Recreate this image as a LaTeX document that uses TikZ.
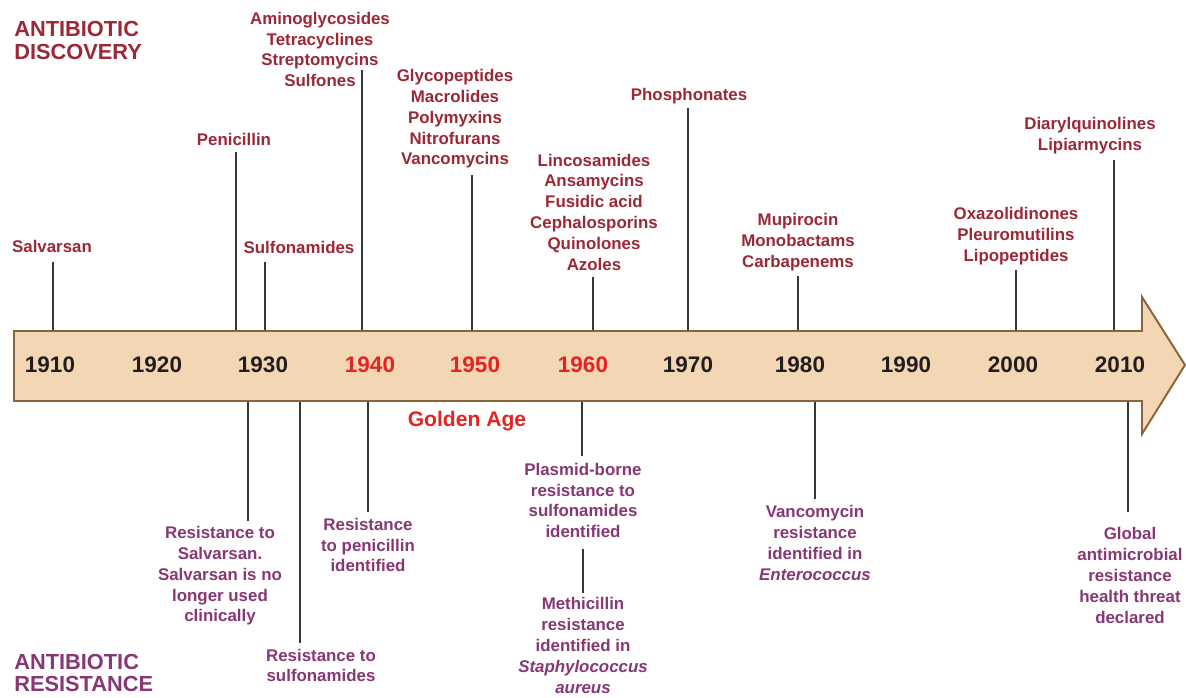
\documentclass[tikz,border=0pt]{standalone}
\usepackage{fontspec}
\setmainfont{Liberation Sans}
\usepackage{xcolor}
\usetikzlibrary{positioning}
\definecolor{discred}{RGB}{155,40,55}
\definecolor{respurple}{RGB}{135,55,115}
\definecolor{goldred}{RGB}{230,35,35}
\definecolor{yearblack}{RGB}{35,30,30}
\definecolor{barfill}{RGB}{243,215,180}
\definecolor{barbrown}{RGB}{140,100,60}
\definecolor{tickgray}{RGB}{55,55,55}

\begin{document}
\begin{tikzpicture}[
  x=0.025cm, y=-0.025cm,
  every node/.style={align=center, inner sep=0pt},
  disclbl/.style={text=discred, font=\fontsize{12}{14.8}\selectfont\bfseries},
  reslbl/.style={text=respurple, font=\fontsize{12}{14.8}\selectfont\bfseries},
  yearlbl/.style={text=#1, font=\fontsize{16}{19}\selectfont\bfseries},
  titlelbl/.style={text=#1, align=left, anchor=west,
                   font=\fontsize{15.5}{16.3}\selectfont\bfseries},
  tickline/.style={draw=tickgray, line width=1.4pt},
]
\useasboundingbox (0,0) rectangle (1186,698);

%% bar edges
\coordinate (bartop) at (0,331);
\coordinate (barbot) at (0,401);

%% ---- titles ----
\node[titlelbl=discred]   (disc)   at (14,40.5) {ANTIBIOTIC\\DISCOVERY};
\node[titlelbl=respurple] (resist) at (14,673)  {ANTIBIOTIC\\RESISTANCE};

%% ---- discoveries (above the bar) ----
\node[disclbl] (salv)   at (52,246)    {Salvarsan};
\node[disclbl] (peni)   at (234,139)   {Penicillin};
\node[disclbl] (sulfa)  at (299,247)   {Sulfonamides};
\node[disclbl] (amino)  at (320,49.5)  {Aminoglycosides\\Tetracyclines\\Streptomycins\\Sulfones};
\node[disclbl] (glyco)  at (455,119)   {Glycopeptides\\Macrolides\\Polymyxins\\Nitrofurans\\Vancomycins};
\node[disclbl] (phos)   at (689,96)    {Phosphonates};
\node[disclbl] (linco)  at (594,212)   {Lincosamides\\Ansamycins\\Fusidic acid\\Cephalosporins\\Quinolones\\Azoles};
\node[disclbl] (mupi)   at (798,242)   {Mupirocin\\Monobactams\\Carbapenems};
\node[disclbl] (oxa)    at (1016,236)  {Oxazolidinones\\Pleuromutilins\\Lipopeptides};
\node[disclbl] (diaryl) at (1090,135.5){Diarylquinolines\\Lipiarmycins};

\coordinate (tsalv)   at (53,262);
\coordinate (tpeni)   at (236,152);
\coordinate (tsulfa)  at (265,262);
\coordinate (tamino)  at (362,70);
\coordinate (tglyco)  at (472,175);
\coordinate (tphos)   at (688,108);
\coordinate (tlinco)  at (593,277);
\coordinate (tmupi)   at (798,276);
\coordinate (toxa)    at (1016,270);
\coordinate (tdiaryl) at (1114,160);
\foreach \t in {tsalv,tpeni,tsulfa,tamino,tglyco,tphos,tlinco,tmupi,toxa,tdiaryl}{
  \draw[tickline] (\t) -- (\t |- bartop);
}

%% ---- resistance (below the bar) ----
\node[reslbl] (rsalv)   at (220,576)   {Resistance to\\Salvarsan.\\Salvarsan is no\\longer used\\clinically};
\node[reslbl] (rsulfa)  at (321,665.5) {Resistance to\\sulfonamides};
\node[reslbl] (rpeni)   at (368,545)   {Resistance\\to penicillin\\identified};
\node[reslbl] (plasmid) at (583,500.5) {Plasmid-borne\\resistance to\\sulfonamides\\identified};
\node[reslbl] (methi)   at (583,645.5) {Methicillin\\resistance\\identified in\\\textit{Staphylococcus}\\\textit{aureus}};
\node[reslbl] (vanco)   at (815,543)   {Vancomycin\\resistance\\identified in\\\textit{Enterococcus}};
\node[reslbl] (global)  at (1130,575.5){Global\\antimicrobial\\resistance\\health threat\\declared};

\coordinate (brsalv)   at (248,521);
\coordinate (brsulfa)  at (300,643);
\coordinate (brpeni)   at (368,512);
\coordinate (bplasmid) at (582,456);
\coordinate (bvanco)   at (815,499);
\coordinate (bglobal)  at (1128,512);
\foreach \t in {brsalv,brsulfa,brpeni,bplasmid,bvanco,bglobal}{
  \draw[tickline] (\t) -- (\t |- barbot);
}
\draw[tickline, shorten <=8pt, shorten >=3pt] (plasmid.south) -- (methi.north);

%% ---- timeline arrow ----
\draw[fill=barfill, draw=barbrown, line width=1.4pt, line join=miter]
  (14,331) -- (1142,331) -- (1142,297) -- (1185,365) -- (1142,434)
  -- (1142,401) -- (14,401) -- cycle;

\foreach \yr/\x/\c in {1910/50/yearblack, 1920/157/yearblack, 1930/263/yearblack,
                       1940/370/goldred, 1950/475/goldred, 1960/583/goldred,
                       1970/688/yearblack, 1980/800/yearblack, 1990/906/yearblack,
                       2000/1013/yearblack, 2010/1120/yearblack}{
  \node[yearlbl=\c] (y\yr) at (\x,365) {\yr};
}

\node[text=goldred, font=\fontsize{15}{18}\selectfont\bfseries] (golden) at (467,421) {Golden Age};

\end{tikzpicture}
\end{document}
